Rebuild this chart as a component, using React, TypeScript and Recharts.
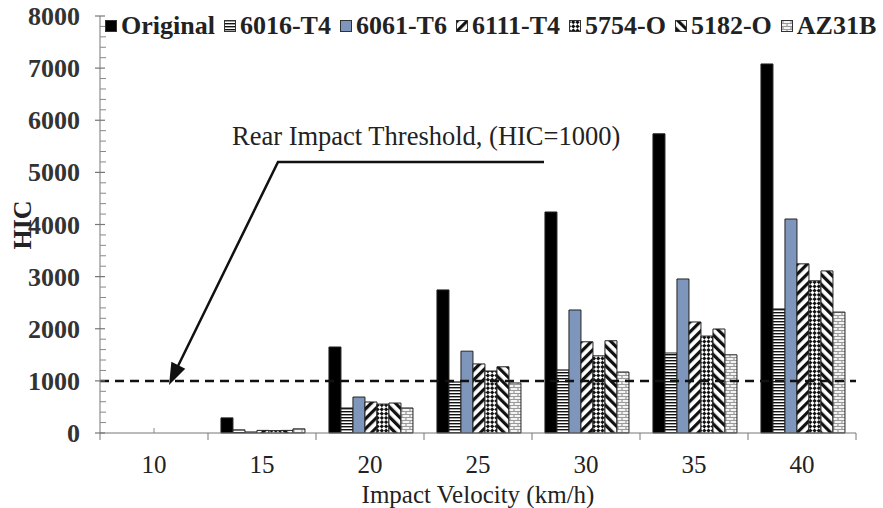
import React from 'react';
import { BarChart, Bar, XAxis, YAxis, ReferenceLine, Legend } from 'recharts';

// velocidades de impacto (km/h)
const categories = ['10', '15', '20', '25', '30', '35', '40'];

// HIC por material
const original = [0, 290, 1650, 2745, 4240, 5740, 7080];
const al6016T4 = [0, 60, 480, 980, 1210, 1535, 2380];
const al6061T6 = [0, 20, 690, 1570, 2360, 2955, 4105];
const al6111T4 = [0, 50, 595, 1325, 1750, 2130, 3245];
const al5754O = [0, 45, 555, 1190, 1480, 1860, 2920];
const al5182O = [0, 50, 575, 1270, 1770, 1995, 3110];
const az31b = [0, 80, 480, 960, 1170, 1500, 2320];

const threshold = 1000;
const thresholdLabel = 'Rear Impact Threshold, (HIC=1000)';

const FONT = '"Liberation Serif", "Times New Roman", serif';

const series = [
  { key: 'original', name: 'Original', fill: '#000000' },
  { key: 'al6016T4', name: '6016-T4', fill: 'url(#p6016)' },
  { key: 'al6061T6', name: '6061-T6', fill: '#7f96bc' },
  { key: 'al6111T4', name: '6111-T4', fill: 'url(#p6111)' },
  { key: 'al5754O', name: '5754-O', fill: 'url(#p5754)' },
  { key: 'al5182O', name: '5182-O', fill: 'url(#p5182)' },
  { key: 'az31b', name: 'AZ31B', fill: 'url(#paz31)' },
];

const data = categories.map((c, i) => ({
  velocity: c,
  original: original[i],
  al6016T4: al6016T4[i],
  al6061T6: al6061T6[i],
  al6111T4: al6111T4[i],
  al5754O: al5754O[i],
  al5182O: al5182O[i],
  az31b: az31b[i],
}));

// ticks menores a cada 200, rótulo só nos milhares
const yTicks: number[] = [];
for (let v = 0; v <= 8000; v += 200) yTicks.push(v);

const Patterns = () => (
  <svg width={0} height={0} style={{ position: 'absolute' }}>
    <defs>
      <pattern id="p6016" width={4} height={3} patternUnits="userSpaceOnUse">
        <rect width={4} height={3} fill="#fff" />
        <rect width={4} height={1.4} fill="#111" />
      </pattern>
      <pattern id="p6111" width={7} height={7} patternUnits="userSpaceOnUse" patternTransform="rotate(45)">
        <rect width={7} height={7} fill="#fff" />
        <rect width={3.2} height={7} fill="#111" />
      </pattern>
      <pattern id="p5182" width={7} height={7} patternUnits="userSpaceOnUse" patternTransform="rotate(-45)">
        <rect width={7} height={7} fill="#fff" />
        <rect width={3.2} height={7} fill="#111" />
      </pattern>
      <pattern id="p5754" width={6} height={6} patternUnits="userSpaceOnUse" patternTransform="rotate(45)">
        <rect width={6} height={6} fill="#fff" />
        <rect width={3} height={3} fill="#111" />
        <rect x={3} y={3} width={3} height={3} fill="#111" />
      </pattern>
      <pattern id="paz31" width={8} height={6} patternUnits="userSpaceOnUse">
        <rect width={8} height={6} fill="#f4f4f4" />
        <path d="M0 0.5H8 M0 3.5H8 M2 0.5V3.5 M6 3.5V6.5" stroke="#9a9a9a" strokeWidth={1.2} fill="none" />
      </pattern>
    </defs>
  </svg>
);

const YTick = (props: any) => {
  const { x, y, payload } = props;
  const major = payload.value % 1000 === 0;
  return (
    <g>
      {major ? (
        <line x1={x - 5} x2={x + 5} y1={y} y2={y} stroke="#777" strokeWidth={1.2} />
      ) : (
        <line x1={x} x2={x + 6} y1={y} y2={y} stroke="#888" strokeWidth={1} />
      )}
      {major && (
        <text
          x={x - 20}
          y={y}
          dy="0.35em"
          textAnchor="end"
          fontFamily={FONT}
          fontWeight="bold"
          fontSize={26}
          fill="#333"
        >
          {payload.value}
        </text>
      )}
    </g>
  );
};

const XTick = (props: any) => {
  const { x, y, payload, index, width, visibleTicksCount } = props;
  const bw = (width || 756) / (visibleTicksCount || 7);
  return (
    <g>
      {index === 0 && <line x1={x - bw / 2} x2={x - bw / 2} y1={y} y2={y + 7} stroke="#777" />}
      {index === 0 && <line x1={x} x2={x} y1={y - 5} y2={y} stroke="#888" />}
      <line x1={x + bw / 2} x2={x + bw / 2} y1={y} y2={y + 7} stroke="#777" />
      <text x={x} y={y + 31} dy="0.35em" textAnchor="middle" fontFamily={FONT} fontSize={25} fill="#222">
        {payload.value}
      </text>
    </g>
  );
};

const LegendContent = () => (
  <div
    style={{
      display: 'flex',
      alignItems: 'center',
      fontFamily: FONT,
      fontWeight: 'bold',
      fontSize: 26,
      lineHeight: '26px',
      color: '#222',
      whiteSpace: 'nowrap',
    }}
  >
    {series.map((s) => (
      <span key={s.key} style={{ display: 'flex', alignItems: 'center', marginRight: 9 }}>
        <svg width={13} height={13} style={{ marginRight: 3 }}>
          <rect x={0.5} y={0.5} width={11} height={11} fill={s.fill} stroke="#333" strokeWidth={1} />
        </svg>
        {s.name}
      </span>
    ))}
  </div>
);

export default function App() {
  return (
    <div style={{ position: 'absolute', left: 0, top: 0, width: 883, height: 508, background: '#fff' }}>
      <Patterns />
      <BarChart
        width={883}
        height={508}
        data={data}
        margin={{ top: 16, right: 27, left: 0, bottom: 0 }}
        barCategoryGap="12%"
        barGap={0}
      >
        <XAxis
          dataKey="velocity"
          height={75}
          stroke="#777"
          tickLine={false}
          tickSize={0}
          tickMargin={0}
          tick={<XTick />}
          interval={0}
          label={{
            value: 'Impact Velocity (km/h)',
            position: 'insideBottom',
            offset: 5,
            fontFamily: FONT,
            fontSize: 25,
            fill: '#222',
          }}
        />
        <YAxis
          width={100}
          domain={[0, 8000]}
          ticks={yTicks}
          interval={0}
          stroke="#777"
          tickLine={false}
          tickSize={0}
          tickMargin={0}
          tick={<YTick />}
        />
        <Legend
          verticalAlign="middle"
          align="center"
          content={<LegendContent />}
          wrapperStyle={{ top: 13, left: 105, width: 'auto' }}
        />
        {series.map((s) => (
          <Bar
            key={s.key}
            dataKey={s.key}
            name={s.name}
            fill={s.fill}
            stroke="#222"
            strokeWidth={1}
            isAnimationActive={false}
          />
        ))}
        <ReferenceLine y={threshold} stroke="#111" strokeWidth={2.5} strokeDasharray="9 6" />
        <text
          transform="translate(22 225) rotate(-90)"
          textAnchor="middle"
          dy="0.35em"
          fontFamily={FONT}
          fontWeight="bold"
          fontSize={26}
          fill="#222"
        >
          HIC
        </text>
        <text x={232} y={145} fontFamily={FONT} fontSize={26.5} fill="#222">
          {thresholdLabel}
        </text>
        <polyline points="544,162 278,162 178,366" fill="none" stroke="#111" strokeWidth={2.5} />
        <polygon points="170,383 184,369 172,363" fill="#111" stroke="#111" strokeWidth={1.5} />
      </BarChart>
    </div>
  );
}
